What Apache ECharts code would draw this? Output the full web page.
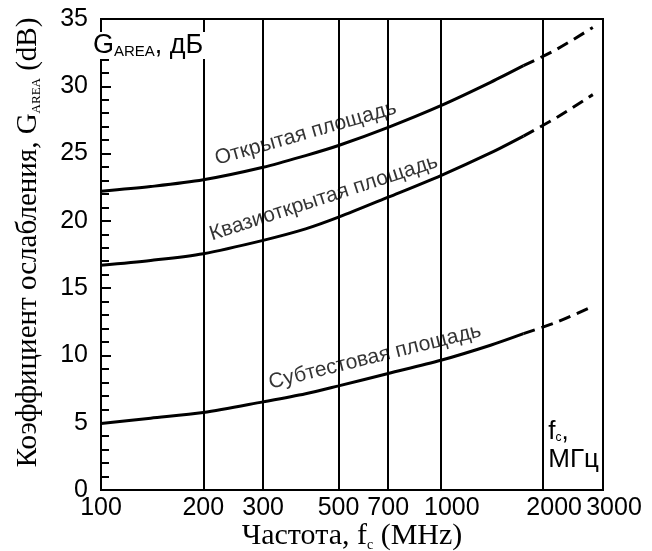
<!DOCTYPE html>
<html>
<head>
<meta charset="utf-8">
<script src="https://cdn.jsdelivr.net/npm/echarts@6/dist/echarts.min.js"></script>
<style>
html,body{margin:0;padding:0;background:#fff;}
#chart{width:652px;height:551px;}
</style>
</head>
<body>
<div id="chart"></div>
<script>
// ---- data ----
var xTickLabels = [100, 200, 300, 500, 700, 1000, 2000, 3000];
var gridFreqs = [200, 300, 500, 700, 1000, 2000];
var freqSolid = [100, 140, 200, 300, 400, 500, 700, 1000, 1400, 1750];
var freqDash = [1750, 2200, 2800];
var openSolid = [22.2, 22.55, 23.05, 23.98, 24.85, 25.6, 26.95, 28.56, 30.29, 31.53];
var openDash = [31.53, 32.77, 34.37];
var quasiSolid = [16.7, 17.06, 17.56, 18.55, 19.4, 20.27, 21.76, 23.37, 25.05, 26.3];
var quasiDash = [26.3, 27.7, 29.38];
var subSolid = [4.95, 5.34, 5.76, 6.55, 7.15, 7.74, 8.66, 9.64, 10.76, 11.62];
var subDash = [11.62, 12.49, 13.65];
var curveNames = ['Открытая площадь', 'Квазиоткрытая площадь', 'Субтестовая площадь'];
var labelAnchors = [[400, 26.5], [452, 21.7], [640, 9.9]];
var labelAngles = [16, 18, 14];

var SANS = "'Liberation Sans', Arial, sans-serif";
var SERIF = "'Liberation Serif', 'Times New Roman', serif";

function zip(xs, ys) { return xs.map(function (x, i) { return [x, ys[i]]; }); }

function solid(name, ys, extra) {
  var s = {
    name: name, type: 'line', data: zip(freqSolid, ys), smooth: 0.3,
    showSymbol: false, symbol: 'none', silent: true,
    lineStyle: { color: '#000', width: 3 }, z: 5
  };
  if (extra) Object.assign(s, extra);
  return s;
}
function dashed(name, ys) {
  return {
    name: name + ' (экстр.)', type: 'line', data: zip(freqDash, ys), smooth: 0.3,
    showSymbol: false, symbol: 'none', silent: true,
    lineStyle: { color: '#000', width: 3, type: [12, 7] }, z: 5
  };
}

var series = [
  solid(curveNames[0], openSolid, {
    markLine: {
      silent: true, symbol: 'none', label: { show: false },
      lineStyle: { color: '#000', width: 2, type: 'solid' },
      data: gridFreqs.map(function (f) { return { xAxis: f }; })
    }
  }),
  dashed(curveNames[0], openDash),
  solid(curveNames[1], quasiSolid),
  dashed(curveNames[1], quasiDash),
  solid(curveNames[2], subSolid),
  dashed(curveNames[2], subDash)
];
curveNames.forEach(function (n, i) {
  series.push({
    type: 'scatter', silent: true, symbolSize: 0, z: 6,
    data: [labelAnchors[i]],
    label: {
      show: true, position: 'inside', formatter: n, rotate: labelAngles[i],
      color: '#000', fontSize: 21, fontFamily: SANS
    }
  });
});

var chart = echarts.init(document.getElementById('chart'), null, { renderer: 'canvas' });
chart.setOption({
  animation: false,
  backgroundColor: '#fff',
  grid: {
    left: 101, right: 49, top: 19, bottom: 61, outerBoundsMode: 'none', containLabel: false,
    show: true, borderColor: '#000', borderWidth: 2, backgroundColor: 'transparent'
  },
  xAxis: {
    type: 'log', logBase: 10, min: 100, max: 3000,
    axisLine: { show: true, lineStyle: { color: '#000', width: 2 } },
    axisTick: { show: false },
    splitLine: { show: false },
    axisLabel: {
      customValues: xTickLabels, color: '#000', fontSize: 25, fontFamily: SANS, margin: 6,
      showMinLabel: true, showMaxLabel: true, hideOverlap: false,
      formatter: function (v) {
        var s = String(Math.round(v));
        return v >= 1000 ? '{r|' + s + '}' : s;
      },
      rich: { r: { fontSize: 25, fontFamily: SANS, color: '#000', padding: [0, 0, 0, 22] } }
    },
    name: 'Частота, f{sub|c} (MHz)',
    nameLocation: 'middle', nameGap: 30, nameMoveOverlap: false,
    nameTextStyle: {
      color: '#000', fontSize: 30, fontFamily: SERIF,
      rich: { sub: { fontSize: 14, fontFamily: SERIF, color: '#000', padding: [18, 0, 0, 0] } }
    }
  },
  yAxis: {
    type: 'value', min: 0, max: 35, interval: 5,
    axisLine: { show: true, lineStyle: { color: '#000', width: 2 } },
    axisTick: { show: true, inside: true, length: 10, lineStyle: { color: '#000', width: 2 } },
    minorTick: { show: true, splitNumber: 5, length: 8, lineStyle: { color: '#000', width: 2 } },
    splitLine: { show: false },
    axisLabel: { color: '#000', fontSize: 25, fontFamily: SANS, margin: 13 },
    name: 'Коэффициент ослабления, G{sub|AREA} (dB)',
    nameLocation: 'middle', nameGap: 58, nameMoveOverlap: false,
    nameTextStyle: {
      color: '#000', fontSize: 29, fontFamily: SERIF, padding: [0, 0, 0, 24],
      rich: { sub: { fontSize: 13, fontFamily: SERIF, color: '#000', padding: [16, 0, 0, 0] } }
    }
  },
  graphic: [
    {
      type: 'text', left: 92, top: 32, z: 100,
      style: {
        text: 'G{sub|AREA}, дБ', fill: '#000', font: '27px ' + SANS, backgroundColor: '#fff',
        padding: [0, 2, 0, 1],
        rich: { sub: { fontSize: 15, fontFamily: SANS, fill: '#000', padding: [12, 0, 0, 0] } }
      }
    },
    {
      type: 'text', right: 53, top: 418, z: 100,
      style: {
        text: 'f{sub|c},\nМГц', fill: '#000', font: '26px ' + SANS, align: 'center', lineHeight: 28,
        backgroundColor: '#fff',
        rich: { sub: { fontSize: 12, fontFamily: SANS, fill: '#000', padding: [12, 0, 0, 0] } }
      }
    }
  ],
  series: series
});
</script>
</body>
</html>
